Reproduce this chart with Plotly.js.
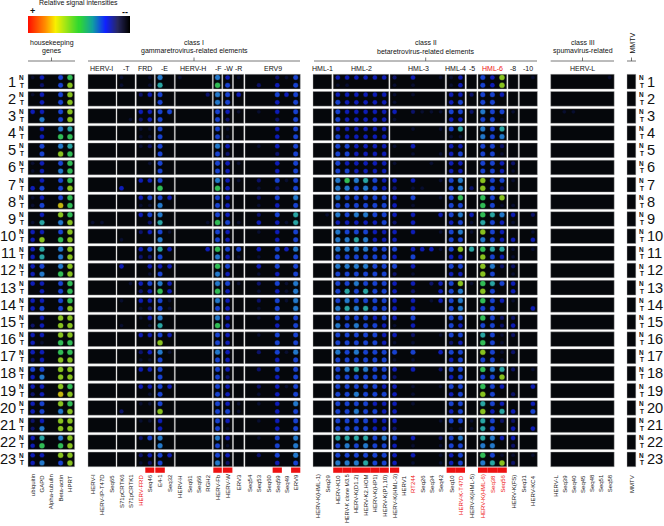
<!DOCTYPE html>
<html><head><meta charset="utf-8">
<script src="https://cdn.plot.ly/plotly-3.0.1.min.js"></script>
<style>html,body{margin:0;padding:0;background:#fff}#c{width:664px;height:526px}</style>
</head><body><div id="c"></div>
<script>
// ---- categories ----
const probes = ["ubiquitin","GAPD","Alpha-tubulin","Beta-actin","HPRT",
"HERV-I","HERV-IP-T47D","Seq65","S71pCRTK6","S71pCRTK1","HERV-FRD","Seq46","E4-1","Seq32",
"HERV-H","Seq61","Seq66","RGH2","HERV-Fb","HERV-W","ERV3","Seq54","Seq53","Seq60","Seq59","Seq49","ERV9",
"HERV-K(HML-1)","Seq29","HERV-K10","HERV-K clone M3.5","HERV-K(D1.2)","HERV-K2.HOM","HERV-K(HP1)","HERV-K(P1,10)",
"HERV-K(HML-3)","HERV1","RT244","Seq26","Seq34","Seq42","Seq10","HERV-K-T47D","HERV-K(HML-5)",
"HERV-K(HML-6)","Seq38","Seq56","HERV-K(FS)","Seq31","HERV-KC4",
"HERV-L","Seq39","Seq40","Seq45","Seq48","Seq51","Seq58","MMTV"];
const redLabels = ["HERV-FRD","RT244","HERV-K-T47D","HERV-K(HML-6)","Seq38","Seq56"];
const markedProbes = ["Seq46","E4-1","HERV-Fb","HERV-W","Seq59","ERV9","HERV-K10","HERV-K clone M3.5","HERV-K(D1.2)","HERV-K2.HOM","HERV-K(HP1)","HERV-K(P1,10)","HERV-K(HML-3)","Seq10","HERV-K-T47D","HERV-K(HML-6)","Seq38","Seq56"];
const panelNames = ["hk","HERV-I","-T","FRD","-E","HERV-H","-F","-W","-R","ERV9","HML-1","HML-2","HML-3","HML-4","-5","HML-6","-8","-10","HERV-L","MMTV"];
const panelCols  = [5,3,2,2,2,4,1,1,1,6,2,6,6,2,1,3,1,2,7,1];
const redPanels = ["HML-6"];
const samples = ["1","2","3","4","5","6","7","8","9","10","11","12","13","14","15","16","17","18","19","20","21","22","23"];

// ---- signal levels per sample, N (adjacent normal) and T (tumour), one value per probe ----
//            hk         I     T   FRD  E    H      F W R ERV9        HML1 HML2        HML3        HML4 5 HML6   8 10  L             M
const s1N  = [1,3,0,4,7, 0,0,0,1,0,0,1,5,0,1,0,0,0,5,3,1,0,0,0,2,1,4, 0,0,3,3,3,3,3,3,2,0,3,0,0,1,1,3,0,4,3,8,0,0,1, 0,0,0,0,0,0,1,0];
const s1T  = [0,2,0,4,8, 0,0,0,1,0,0,1,6,0,0,0,0,0,7,4,0,0,2,0,3,0,4, 0,0,1,1,0,0,0,0,1,0,1,0,0,0,1,3,0,4,3,8,0,0,0, 0,0,0,0,0,0,0,0];
const s2N  = [1,3,0,4,8, 0,0,0,0,0,2,3,4,0,0,0,0,2,5,4,3,0,0,0,4,3,4, 0,0,3,3,3,3,3,3,1,0,1,0,0,0,3,3,2,4,4,3,0,0,0, 0,0,0,0,0,0,0,0];
const s2T  = [0,3,0,4,8, 0,0,0,0,0,0,0,4,0,0,0,0,0,5,4,0,0,0,0,3,0,4, 0,0,4,3,3,3,3,3,1,0,0,0,0,0,3,4,0,4,4,0,0,0,0, 0,0,0,0,0,0,0,0];
const s3N  = [3,3,0,4,8, 0,0,0,0,0,3,3,4,4,0,0,0,0,4,3,1,0,1,0,3,0,4, 0,0,4,3,3,3,3,3,3,0,2,1,1,1,4,4,2,5,4,4,1,0,0, 0,1,1,0,0,0,0,0];
const s3T  = [0,5,0,4,8, 0,0,0,0,1,2,3,4,0,0,0,0,0,4,2,0,0,0,0,2,0,4, 0,0,4,3,3,3,3,3,1,0,0,0,0,0,3,3,0,4,4,1,0,0,0, 0,0,0,0,0,0,0,0];
const s4N  = [0,3,0,5,6, 0,0,0,0,0,1,1,4,0,0,0,0,0,4,1,0,0,0,0,3,0,4, 0,0,3,3,3,3,3,3,0,0,1,0,0,1,4,6,0,5,4,6,0,0,0, 0,0,0,0,0,0,0,0];
const s4T  = [0,3,0,7,7, 0,0,0,0,0,1,1,4,0,0,0,0,0,4,1,0,0,0,0,3,0,4, 0,0,4,3,3,3,3,3,0,0,0,0,0,0,1,1,0,5,4,5,0,0,0, 0,0,0,0,0,0,0,0];
const s5N  = [0,4,0,5,6, 0,0,0,0,0,1,2,4,0,0,0,0,0,5,3,0,0,1,0,3,0,4, 0,0,4,4,3,3,3,3,1,0,3,0,0,0,3,3,0,4,4,2,0,0,0, 0,0,0,0,0,0,0,0];
const s5T  = [0,4,0,8,7, 0,0,0,0,0,0,0,4,0,0,0,0,0,4,2,0,0,0,0,2,0,4, 0,0,4,4,3,3,3,3,0,0,1,0,0,1,3,4,0,4,4,1,0,0,0, 0,0,0,0,0,0,0,0];
const s6N  = [1,3,0,4,7, 0,0,0,0,0,0,1,4,0,0,0,0,0,4,3,1,0,0,0,3,0,4, 0,0,4,3,3,3,3,3,1,0,0,0,1,0,3,3,0,4,4,3,2,0,0, 0,0,0,0,0,0,0,0];
const s6T  = [1,3,0,5,7, 0,0,0,0,0,0,0,4,0,0,0,0,0,4,3,0,0,0,0,3,0,4, 0,0,4,4,3,3,3,3,0,0,0,0,0,0,3,3,0,4,4,3,1,0,0, 0,0,0,0,0,0,0,0];
const s7N  = [0,3,0,4,7, 0,0,0,0,0,3,3,4,0,0,0,0,0,5,3,1,0,2,0,4,1,4, 0,0,5,7,5,6,4,3,3,0,3,0,0,1,4,5,0,8,4,4,1,0,0, 0,0,0,0,0,0,0,0];
const s7T  = [3,4,0,4,8, 0,0,0,3,0,0,0,7,0,0,0,0,0,7,3,0,0,1,0,2,0,4, 0,0,5,5,4,5,4,3,2,0,1,1,0,0,4,5,2,8,4,2,0,0,0, 0,0,0,0,0,0,0,0];
const s8N  = [1,3,0,4,7, 0,0,0,0,0,3,4,4,3,0,0,0,0,4,3,0,0,2,0,4,0,5, 0,0,5,4,4,4,4,4,3,0,4,0,0,1,4,7,0,7,4,8,0,0,0, 0,0,0,0,0,0,0,0];
const s8T  = [1,4,0,9,7, 0,0,0,0,0,1,1,5,0,0,0,0,0,4,3,0,0,1,0,3,0,4, 0,0,4,4,4,4,4,4,3,0,1,0,0,0,4,4,0,7,4,1,1,0,0, 0,0,0,0,0,0,0,0];
const s9N  = [0,3,0,8,7, 0,0,0,0,0,3,4,5,0,0,0,0,0,4,3,0,0,2,0,4,0,6, 0,1,5,4,5,5,4,4,3,0,3,0,0,3,4,5,3,7,6,5,3,0,2, 0,0,0,0,0,0,0,0];
const s9T  = [1,6,0,5,8, 1,1,0,0,0,0,2,6,0,0,0,0,1,7,4,1,0,3,0,3,1,6, 0,0,3,3,3,3,3,4,2,0,3,0,0,0,3,4,1,6,4,3,1,0,0, 0,0,0,0,0,0,0,0];
const s10N = [3,3,0,4,8, 0,0,0,0,0,2,3,4,1,0,0,0,0,4,3,0,0,1,0,3,0,4, 0,0,5,4,4,4,3,3,3,0,3,0,0,1,4,5,1,8,4,3,0,0,1, 0,0,0,0,0,0,0,0];
const s10T = [3,8,0,7,8, 0,0,0,1,0,0,0,5,0,0,0,0,0,4,3,0,0,0,0,3,0,4, 0,0,5,5,6,5,3,3,3,0,0,0,0,0,4,4,0,5,4,3,3,0,3, 0,0,0,0,0,0,0,0];
const s11N = [3,6,0,5,8, 0,0,0,0,0,3,4,6,3,0,0,0,3,7,4,4,0,3,0,4,3,5, 0,0,5,5,5,5,4,4,4,0,3,3,3,1,4,8,6,7,6,6,1,0,1, 0,0,0,0,0,0,0,0];
const s11T = [3,6,0,5,8, 0,0,0,0,0,2,2,4,0,0,0,0,0,5,3,1,0,1,0,4,0,4, 0,0,4,4,4,4,4,4,3,0,4,0,0,0,3,3,0,8,4,3,1,0,0, 0,0,0,0,0,0,0,0];
const s12N = [3,4,0,5,8, 0,0,0,3,0,0,3,3,3,0,0,0,0,7,4,0,0,3,0,4,0,4, 0,0,5,5,5,5,4,4,4,0,3,0,0,0,4,4,0,8,5,2,2,0,0, 0,0,0,0,0,0,0,0];
const s12T = [3,5,0,7,8, 0,0,0,0,0,0,1,4,0,0,0,0,0,5,3,0,0,1,0,3,0,4, 0,0,4,4,4,4,4,4,2,0,1,0,0,0,3,3,0,8,4,0,1,0,0, 0,0,0,0,0,0,0,0];
const s13N = [3,3,0,4,7, 0,0,0,0,1,3,4,5,3,0,0,0,0,5,4,1,0,2,0,4,1,5, 0,0,4,4,5,4,4,4,3,0,3,0,2,3,4,8,1,7,6,4,3,0,0, 0,0,0,0,0,0,0,0];
const s13T = [0,3,0,4,7, 0,0,0,0,0,2,3,7,3,0,0,0,0,7,3,0,0,1,0,3,1,5, 0,0,4,6,4,6,4,4,3,0,2,0,0,3,4,5,0,8,4,0,3,0,0, 0,0,0,0,0,0,0,0];
const s14N = [3,3,0,4,7, 0,0,0,1,0,3,3,4,1,0,0,0,0,5,3,0,0,2,0,4,1,5, 0,0,4,5,4,4,4,4,3,0,3,0,1,3,4,5,0,7,4,3,1,0,0, 0,0,0,0,0,0,0,0];
const s14T = [3,4,0,4,8, 0,0,0,0,0,1,2,4,1,0,0,0,0,4,3,0,0,1,0,4,0,5, 0,0,5,6,5,6,4,4,3,0,3,0,0,0,4,5,0,4,4,0,0,0,3, 0,0,0,0,0,0,0,0];
const s15N = [0,3,0,8,8, 0,0,0,0,0,1,3,5,0,0,0,0,0,5,3,0,0,1,0,4,0,4, 0,0,4,4,4,4,3,4,3,0,4,0,0,0,4,4,0,7,4,2,2,0,0, 0,0,0,0,0,0,0,0];
const s15T = [2,3,0,8,8, 0,0,0,1,0,0,1,6,0,0,0,0,0,7,3,0,0,0,0,3,0,4, 0,0,5,4,5,4,4,3,1,0,3,0,0,0,4,3,0,4,4,2,3,0,0, 0,0,0,0,0,0,0,0];
const s16N = [3,3,0,8,8, 0,0,0,0,0,3,3,4,3,0,0,0,0,4,3,0,0,1,0,4,0,4, 0,0,4,4,4,4,4,3,3,0,2,0,0,1,4,4,0,6,4,1,2,0,0, 0,0,0,0,0,0,0,0];
const s16T = [3,1,0,7,7, 0,0,0,0,0,0,0,8,0,0,0,0,0,4,3,0,0,0,0,4,0,4, 0,0,4,4,4,4,4,3,1,0,1,0,0,0,2,3,0,7,4,1,0,0,0, 0,0,0,0,0,0,0,0];
const s17N = [3,3,0,7,7, 0,0,0,0,0,2,3,5,1,0,0,0,0,5,3,0,0,2,0,4,1,5, 0,0,5,4,5,4,4,4,4,0,4,0,0,3,4,4,0,8,4,1,2,0,0, 0,0,0,0,0,0,0,0];
const s17T = [2,3,0,8,8, 0,0,0,0,0,1,1,4,0,0,0,0,0,4,3,0,0,0,0,3,0,4, 0,0,4,4,4,4,4,4,1,0,1,0,0,0,3,4,0,4,4,1,0,0,0, 0,0,0,0,0,0,0,0];
const s18N = [4,4,0,8,8, 0,0,0,0,0,3,3,4,0,0,0,0,0,4,3,0,0,2,0,4,0,4, 0,0,4,5,6,5,4,4,3,0,3,0,0,2,4,4,0,7,5,6,2,0,1, 0,0,0,0,0,0,0,0];
const s18T = [3,5,0,8,8, 0,0,0,0,0,0,0,4,0,0,0,0,0,4,2,0,0,0,0,3,0,4, 0,0,4,4,4,4,4,4,2,0,0,0,0,0,3,4,0,4,4,8,0,0,0, 0,0,0,0,0,0,0,0];
const s19N = [3,3,0,8,7, 0,0,0,0,0,3,3,4,3,0,0,0,0,4,3,0,0,2,0,3,1,4, 0,0,4,4,4,4,4,3,3,0,1,0,0,1,4,4,0,7,4,3,0,0,3, 0,0,0,0,0,0,0,0];
const s19T = [2,3,0,9,8, 0,0,0,0,0,0,1,4,0,0,0,0,0,4,3,0,0,1,0,3,0,4, 0,0,4,4,5,4,4,4,3,0,1,0,0,0,3,4,0,8,4,0,2,0,0, 0,0,0,0,0,0,0,0];
const s20N = [3,4,0,8,7, 0,0,0,0,0,1,1,4,0,0,0,0,0,4,3,1,0,1,0,3,0,5, 0,0,4,4,4,4,3,3,3,0,1,0,0,0,4,4,0,6,4,3,0,0,3, 0,0,0,0,0,0,0,0];
const s20T = [3,4,0,5,8, 0,0,0,2,0,0,0,8,0,0,0,0,0,4,4,1,0,0,0,3,0,4, 0,0,4,4,5,4,4,3,3,0,0,0,0,0,3,4,0,8,3,6,3,0,4, 0,0,0,0,0,0,0,0];
const s21N = [2,3,0,8,8, 0,0,0,0,0,1,1,3,0,0,0,0,0,4,3,0,0,1,0,3,0,4, 0,0,4,4,4,4,3,3,3,0,0,0,0,1,4,4,1,6,4,2,2,0,0, 0,0,0,0,0,0,0,0];
const s21T = [2,5,0,8,8, 0,0,0,0,0,0,0,3,0,0,0,0,0,4,1,0,0,0,0,3,0,4, 0,0,4,4,4,4,3,3,2,0,0,0,0,0,1,1,1,6,4,0,3,0,3, 0,0,0,0,0,0,0,0];
const s22N = [3,6,0,5,8, 0,0,0,0,0,2,4,5,0,0,0,0,0,5,3,0,0,1,0,4,0,5, 0,0,6,6,6,6,4,5,4,0,3,0,0,2,4,5,0,6,5,3,3,0,0, 0,0,0,0,0,0,0,0];
const s22T = [3,7,0,7,8, 0,0,0,0,0,0,0,5,0,0,0,0,0,4,1,0,0,0,0,4,0,5, 0,0,4,5,4,5,4,4,3,0,1,0,0,1,4,4,0,5,5,0,2,0,0, 0,0,0,0,0,0,0,0];
const s23N = [3,3,0,8,8, 0,0,0,0,0,2,3,4,3,0,0,0,0,4,3,0,0,2,0,4,0,5, 0,0,4,4,4,4,4,4,3,0,3,0,0,1,3,4,0,7,4,1,1,0,1, 0,0,0,0,0,0,0,0];
const s23T = [3,5,0,4,8, 0,0,0,0,0,1,2,4,0,0,0,0,0,5,2,0,0,0,0,3,0,4, 0,0,5,5,5,6,4,4,3,0,1,0,0,1,3,4,0,5,6,8,2,0,0, 0,0,0,0,0,0,0,0];
const normal = [s1N,s2N,s3N,s4N,s5N,s6N,s7N,s8N,s9N,s10N,s11N,s12N,s13N,s14N,s15N,s16N,s17N,s18N,s19N,s20N,s21N,s22N,s23N];
const tumour = [s1T,s2T,s3T,s4T,s5T,s6T,s7T,s8T,s9T,s10T,s11T,s12T,s13T,s14T,s15T,s16T,s17T,s18T,s19T,s20T,s21T,s22T,s23T];

// ---- layout constants (page pixels) ----
const panelEdges = [[28,74.6],[88,116],[117,135],[136.3,154.3],[155.3,174.3],[175.3,212.3],[213.3,221.8],[222.8,232.4],[233.5,243.8],[245,300.3],
 [313,331.8],[333.2,388.8],[390,445.2],[446.6,465],[466.4,476.8],[478,506.8],[508,518.2],[519.4,537.4],[550.7,614.2],[627,635.8]];
const rowTop = i => 74.3 + i*17.17, rowH = 14.7, dotN = 3.2, dotT = 10.9;
const FONT = "Liberation Sans, Arial, sans-serif";

// column centres from panels
const colX = [], colL = [], colR = [];
panelCols.forEach((n,p)=>{
  const [l,r] = panelEdges[p], w=(r-l)/n;
  for(let k=0;k<n;k++){colL.push(l+k*w);colR.push(l+(k+1)*w);colX.push(l+(k+.5)*w);}
});

const scale = [[0,'#000000'],[.1,'#0a1038'],[.2,'#0e1680'],[.3,'#1022e0'],[.4,'#1c50ff'],[.5,'#2a94fa'],[.6,'#30ccc8'],[.7,'#3ce868'],[.8,'#a8f024'],[.9,'#f0e010'],[1,'#ff2000']];
const sizeOf = {1:3.4,2:3.8,3:4.2,4:4.6,5:4.8,6:4.8,7:5,8:5,9:5};
const xs=[],ys=[],cs=[],ss=[],hs=[];
samples.forEach((s,i)=>{
  [[normal[i],dotN],[tumour[i],dotT]].forEach(([row,off])=>{
    row.forEach((v,j)=>{
      if(!v) return;
      xs.push(colX[j]); ys.push(rowTop(i)+off); cs.push(v); ss.push(sizeOf[v]); hs.push(sizeOf[v]+0.9);
    });
  });
});

// panels
const shapes=[];
samples.forEach((s,i)=>panelEdges.forEach(([l,r])=>shapes.push({type:'rect',layer:'below',xref:'x',yref:'y',x0:l,x1:r,y0:rowTop(i),y1:rowTop(i)+rowH,fillcolor:'#05070b',line:{color:'#b4b4b4',width:0.4}})));
// brackets
const line=(x0,y0,x1,y1,c='#555',w=0.8)=>shapes.push({type:'line',xref:'x',yref:'y',x0,y0,x1,y1,line:{color:c,width:w}});
[[28,75,51.5],[88,300,194],[314,537,425.7],[550.7,614,582.5],[627,636,631.5]].forEach(([a,b,t])=>{line(a,61,b,61);line(t,57.5,t,61);});
// red marks
probes.forEach((p,j)=>{ if(markedProbes.includes(p)) shapes.push({type:'rect',xref:'x',yref:'y',x0:colL[j],x1:colR[j],y0:467.5,y1:472.8,fillcolor:'#ee1111',line:{width:0}}); });

// text
const ann=[];
const txt=(x,y,text,size,o={})=>ann.push(Object.assign({xref:'x',yref:'y',x,y,text,showarrow:false,font:{family:FONT,size,color:'#111'},xanchor:'center',yanchor:'middle',borderpad:0,borderwidth:0},o));
txt(78.5,3,"Relative signal intensities",7);
txt(32,11,"<b>+</b>",9); txt(124.5,11.5,"<b>--</b>",9);
txt(51.5,42.5,"housekeeping",7); txt(51.5,51,"genes",7);
txt(194,42.5,"class I",7); txt(194,51,"gammaretrovirus-related elements",7);
txt(425.7,42.5,"class II",7); txt(425.7,51,"betaretrovirus-related elements",7);
txt(582.5,42.5,"class III",7); txt(582.5,51,"spumavirus-related",7);
txt(631.5,43,"MMTV",7,{textangle:-90});
const sub=[["HERV-I",101],["-T",126],["FRD",145],["-E",164],["HERV-H",193],["-F",218],["-W",228],["-R",238.5],["ERV9",273],["HML-1",322],["HML-2",361],["HML-3",418],["HML-4",455.7],["-5",471.7],["HML-6",492],["-8",512.7],["-10",528],["HERV-L",582.5]];
sub.forEach(([t,x])=>{ const o={}; if(redPanels.includes(t)) o.font={family:FONT,size:7,color:'#ee1111'}; txt(x,68.5,t,7,o); });
samples.forEach((s,i)=>{
  const y=rowTop(i);
  txt(16,y+7.2,s,14.6,{xanchor:'right'});
  txt(647,y+7.2,s,14.6,{xanchor:'left'});
  txt(21.5,y+dotN-0.2,"<b>N</b>",6.4); txt(21.5,y+dotT-0.2,"<b>T</b>",6.4);
  txt(641.5,y+dotN-0.2,"<b>N</b>",6.4); txt(641.5,y+dotT-0.2,"<b>T</b>",6.4);
});
probes.forEach((p,j)=>{const fs=p.length>15?5.5:6; txt(colX[j],474.5,p,fs,{textangle:-90,yanchor:'top',font:{family:FONT,size:fs,color:redLabels.includes(p)?'#ee1111':'#222'}});});

// gradient key
const keyZ=[],keyX=[];
for(let k=0;k<=100;k++){keyZ.push(k);keyX.push(28.5+k*1.005);}
const keyScale=[[0,'#ff1000'],[.17,'#ff9000'],[.27,'#f8f000'],[.5,'#30d830'],[.63,'#10a0a0'],[.76,'#1020ff'],[.88,'#282860'],[1,'#000']];

Plotly.newPlot('c',[
 {type:'heatmap',x:keyX,y:[20.25,28.75],z:[keyZ,keyZ],colorscale:keyScale,showscale:false,hoverinfo:'skip'},
 {type:'scatter',mode:'markers',x:xs,y:ys,marker:{size:hs,color:cs,cmin:0,cmax:10,colorscale:scale,opacity:.35,line:{width:0}},hoverinfo:'skip'},
 {type:'scatter',mode:'markers',x:xs,y:ys,marker:{size:ss,color:cs,cmin:0,cmax:10,colorscale:scale,line:{width:0}},hoverinfo:'skip'}
],{
 width:664,height:526,margin:{l:0,r:0,t:0,b:0,pad:0},showlegend:false,paper_bgcolor:'#fff',plot_bgcolor:'#fff',
 xaxis:{range:[0,664],visible:false,fixedrange:true},
 yaxis:{range:[526,0],visible:false,fixedrange:true},
 shapes,annotations:ann,font:{family:FONT}
},{displayModeBar:false,staticPlot:true});
</script></body></html>
